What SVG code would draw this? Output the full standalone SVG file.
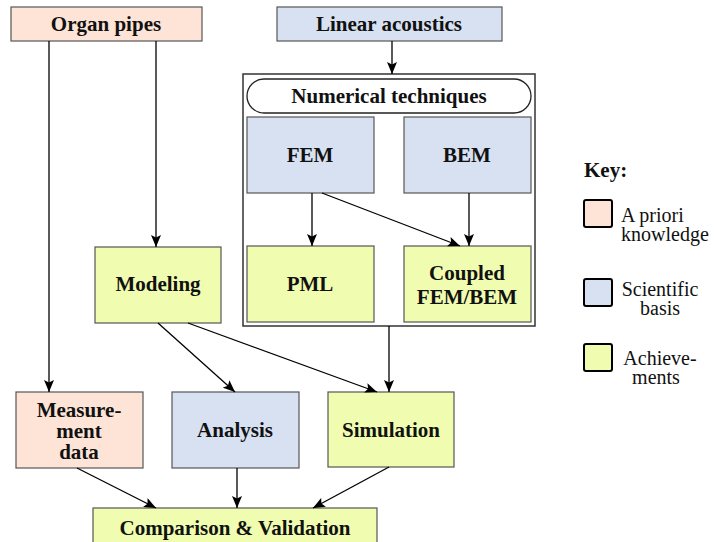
<svg xmlns="http://www.w3.org/2000/svg" width="714" height="542" viewBox="0 0 714 542">
<defs>
<marker id="arr" markerUnits="userSpaceOnUse" markerWidth="12" markerHeight="10" refX="12" refY="5" orient="auto">
<path d="M0,0 L12,5 L0,10 L2.5,5 z" fill="#000"/>
</marker>
</defs>
<rect width="714" height="542" fill="#fff"/>
<g id="numerical">
<rect x="243" y="74" width="292" height="252" fill="#fff" stroke="#333" stroke-width="1.5"/>
<rect x="247" y="79" width="284" height="34" rx="17" fill="#fff" stroke="#222" stroke-width="1.3"/>
<text x="389" y="103" font-family="Liberation Serif" font-weight="bold" font-size="21" text-anchor="middle" fill="#111">Numerical techniques</text>
</g>

<g id="nodes" font-family="Liberation Serif" font-weight="bold" font-size="21" text-anchor="middle" stroke="#555" stroke-width="1.2">
<g id="organ"><rect fill="#fee4d6" x="11" y="7" width="191" height="34"/><text stroke="none" fill="#111" font-family="Liberation Serif" x="106" y="31">Organ pipes</text></g>
<g id="linear"><rect fill="#d7e1f2" x="277" y="7" width="225" height="34"/><text stroke="none" fill="#111" font-family="Liberation Serif" x="389" y="31">Linear acoustics</text></g>
<g id="fem"><rect fill="#d7e1f2" x="247" y="117" width="127" height="76"/><text stroke="none" fill="#111" font-family="Liberation Serif" x="310" y="162">FEM</text></g>
<g id="bem"><rect fill="#d7e1f2" x="404" y="117" width="127" height="76"/><text stroke="none" fill="#111" font-family="Liberation Serif" x="467" y="162">BEM</text></g>
<g id="pml"><rect fill="#f0fdb0" x="247" y="246" width="127" height="76"/><text stroke="none" fill="#111" font-family="Liberation Serif" x="310" y="291">PML</text></g>
<g id="coupled"><rect fill="#f0fdb0" x="404" y="246" width="127" height="76"/><text stroke="none" fill="#111" font-family="Liberation Serif" x="467" y="280">Coupled</text><text stroke="none" fill="#111" font-family="Liberation Serif" x="467" y="304">FEM/BEM</text></g>
<g id="modeling"><rect fill="#f0fdb0" x="95" y="247" width="126" height="76"/><text stroke="none" fill="#111" font-family="Liberation Serif" x="158" y="291">Modeling</text></g>
<g id="measurement"><rect fill="#fee4d6" x="16" y="392" width="127" height="76"/><text stroke="none" fill="#111" font-family="Liberation Serif" x="79" y="417">Measure-</text><text stroke="none" fill="#111" font-family="Liberation Serif" x="79" y="438">ment</text><text stroke="none" fill="#111" font-family="Liberation Serif" x="79" y="459">data</text></g>
<g id="analysis"><rect fill="#d7e1f2" x="172" y="392" width="127" height="76"/><text stroke="none" fill="#111" font-family="Liberation Serif" x="235" y="437">Analysis</text></g>
<g id="simulation"><rect fill="#f0fdb0" x="328" y="392" width="126" height="75"/><text stroke="none" fill="#111" font-family="Liberation Serif" x="391" y="437">Simulation</text></g>
<g id="comparison"><rect fill="#f0fdb0" x="93" y="508" width="284" height="40"/><text stroke="none" fill="#111" font-family="Liberation Serif" x="235" y="535">Comparison &amp; Validation</text></g>
</g>

<g id="connectors" stroke="#000" stroke-width="1.3" marker-end="url(#arr)">
<line x1="49" y1="41" x2="49" y2="392"/>
<line x1="156" y1="41" x2="156" y2="247"/>
<line x1="392" y1="41" x2="392" y2="74"/>
<line x1="312" y1="193" x2="312" y2="246"/>
<line x1="469" y1="193" x2="469" y2="246"/>
<line x1="322" y1="193" x2="460" y2="246"/>
<line x1="389" y1="326" x2="389" y2="392"/>
<line x1="158" y1="323" x2="235" y2="392"/>
<line x1="188" y1="323" x2="377" y2="392"/>
<line x1="77" y1="468" x2="156" y2="508"/>
<line x1="237" y1="468" x2="237" y2="508"/>
<line x1="389" y1="467" x2="313" y2="508"/>
</g>

<g id="legend" fill="#111">
<text x="584" y="177" font-family="Liberation Serif" font-weight="bold" font-size="21">Key:</text>
<rect fill="#fee4d6" stroke="#000" stroke-width="2" x="584" y="200" width="28" height="27" rx="2"/>
<text x="621" y="222" font-family="Liberation Serif" font-size="20">A priori</text>
<text x="621" y="241" font-family="Liberation Serif" font-size="20">knowledge</text>
<rect fill="#d7e1f2" stroke="#000" stroke-width="2" x="584" y="279" width="28" height="27" rx="2"/>
<text x="660" y="296" font-family="Liberation Serif" font-size="20" text-anchor="middle">Scientific</text>
<text x="660" y="315" font-family="Liberation Serif" font-size="20" text-anchor="middle">basis</text>
<rect fill="#f0fdb0" stroke="#000" stroke-width="2" x="584" y="344" width="28" height="27" rx="2"/>
<text x="660" y="365" font-family="Liberation Serif" font-size="20" text-anchor="middle">Achieve-</text>
<text x="656" y="384" font-family="Liberation Serif" font-size="20" text-anchor="middle">ments</text>
</g>
</svg>
